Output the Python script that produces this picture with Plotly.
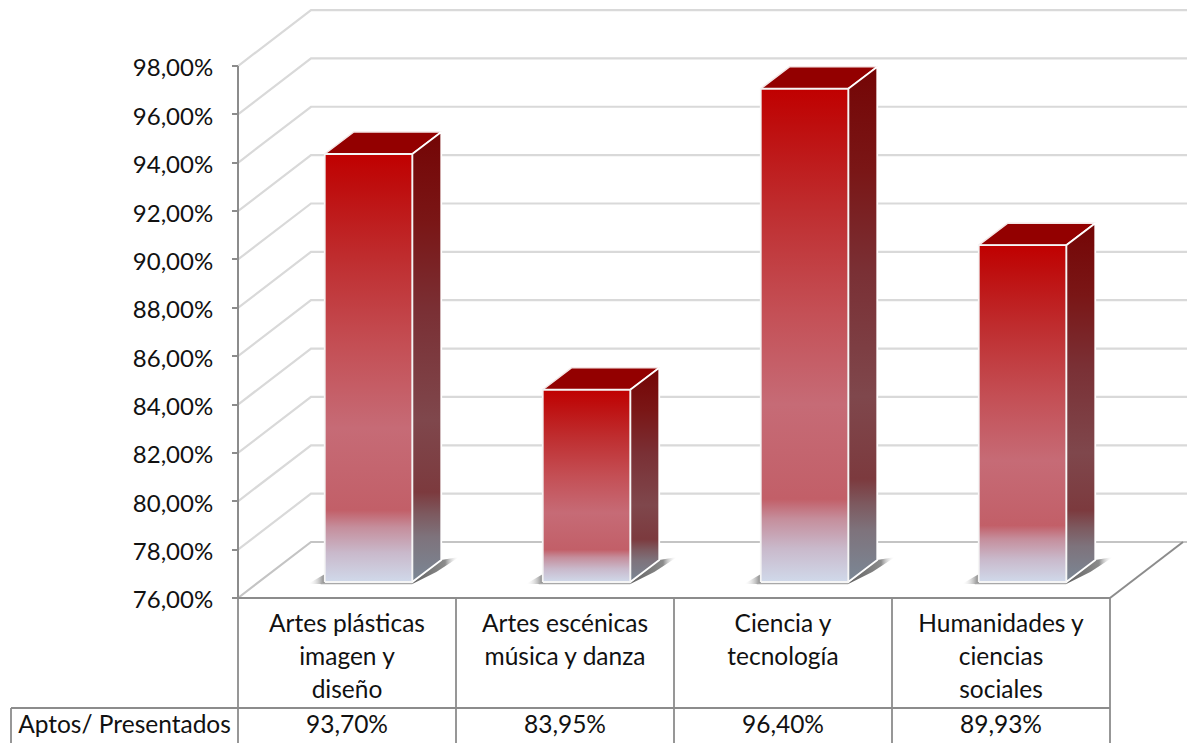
import plotly.graph_objects as go

categories = [
    ["Artes plásticas", "imagen y", "diseño"],
    ["Artes escénicas", "música y danza"],
    ["Ciencia y", "tecnología"],
    ["Humanidades y", "ciencias", "sociales"],
]
values = [93.70, 83.95, 96.40, 89.93]
series_name = "Aptos/ Presentados"
y_ticks = [76, 78, 80, 82, 84, 86, 88, 90, 92, 94, 96, 98]

# layout geometry (pixels)
W, H = 1187, 743
L, B_PX = 238, 598
PX_X = 218.0
PX_Y = 24.18
def xp(px): return (px - L) / PX_X
def yp(py): return 76 + (B_PX - py) / PX_Y
def dx(px): return px / PX_X
def dy(px): return px / PX_Y

WALL_X, WALL_Y = dx(73), dy(56)
BAR_W = dx(87.5)
BAR_DX, BAR_DY = dx(21.5), dy(16)
DEP_X, DEP_Y = dx(29), dy(22)
GRID = "#d9d9d9"
AXIS = "#8c8c8c"
FONT = "Lato"
FS = 24
FS_TABLE = 24.5

fig = go.Figure()

def line(x, y, color, width=2):
    fig.add_trace(go.Scatter(x=x, y=y, mode="lines", line=dict(color=color, width=width),
                             cliponaxis=False, hoverinfo="skip", showlegend=False))

# walls and gridlines
for t in y_ticks:
    c = "#c4c4c4" if t == 76 else GRID
    line([0, WALL_X, 4 + WALL_X + 0.02], [t, t + WALL_Y, t + WALL_Y], c, 2.2)
# floor right edge
line([4, 4 + WALL_X], [76, 76 + WALL_Y], AXIS, 2)

front_scale = [[0, "#D0D9EA"], [0.068, "#C9B9CB"], [0.128, "#C58E9C"], [0.168, "#C25F68"],
               [0.36, "#C66B76"], [0.55, "#C44F55"], [0.75, "#BF2E30"], [0.93, "#BE0D0D"], [1, "#C00000"]]
side_scale = [[0, "#7B8896"], [0.1, "#7E737C"], [0.15, "#7D5A60"], [0.2, "#7C3A3E"], [0.36, "#7F474C"],
              [0.6, "#7A3035"], [0.8, "#7A1616"], [1, "#740505"]]

def poly(x, y, **kw):
    fig.add_trace(go.Scatter(x=x, y=y, mode="lines", fill="toself", cliponaxis=False,
                             hoverinfo="skip", showlegend=False, **kw))

for i, v in enumerate(values):
    x0 = i + 0.5 - BAR_W / 2 + BAR_DX
    x1 = x0 + BAR_W
    y0 = 76 + BAR_DY
    y1 = v + BAR_DY
    # shadow
    shade = dict(type="horizontal",
                 colorscale=[[0, "rgba(80,80,80,0.9)"], [0.7, "rgba(90,90,90,0.7)"], [1, "rgba(255,255,255,0)"]])
    poly([x1, x1 + DEP_X, x1 + dx(47), x1 + dx(24), x1],
         [y0 - dy(1), y0 + DEP_Y, y0 + DEP_Y + dy(3), y0 + dy(10), y0 - dy(2)],
         line=dict(width=0), fillgradient=shade)
    shade_l = dict(type="horizontal",
                   colorscale=[[0, "rgba(255,255,255,0)"], [1, "rgba(80,80,80,0.9)"]])
    poly([x0 - dx(17), x0 + dx(2), x0 + dx(2), x0 - dx(17)],
         [y0 - dy(2), y0 + dy(9), y0 - dy(2), y0 - dy(2)],
         line=dict(width=0), fillgradient=shade_l)
    line([x0 - dx(4), x1], [y0 - dy(1.5), y0 - dy(1.5)], "#a8a8a8", 1.5)
    # top face
    poly([x0, x1, x1 + DEP_X, x0 + DEP_X, x0], [y1, y1, y1 + DEP_Y, y1 + DEP_Y, y1],
         line=dict(color="#f4e6e6", width=1.5), fillcolor="#930000")
    # side face
    poly([x1, x1 + DEP_X, x1 + DEP_X, x1, x1], [y0, y0 + DEP_Y, y1 + DEP_Y, y1, y0],
         line=dict(color="#ffffff", width=1.8),
         fillgradient=dict(type="vertical", colorscale=side_scale))
    # front face
    poly([x0, x1, x1, x0, x0], [y0, y0, y1, y1, y0],
         line=dict(color="#f5f5f5", width=1.8),
         fillgradient=dict(type="vertical", colorscale=front_scale))

# value axis line
line([0, 0], [76, y_ticks[-1]], AXIS, 2)

# data table rules
line([0, 4], [76, 76], AXIS, 2.2)
for k in range(5):
    line([k, k], [76, yp(H + 2)], AXIS, 1.8)
line([xp(11), 4], [yp(708), yp(708)], AXIS, 1.8)
line([xp(11), xp(11)], [yp(708), yp(H + 2)], AXIS, 1.8)

# data table text
LINE_PY = [626, 659, 692]
tx, ty, tt = [], [], []
for i, lines in enumerate(categories):
    for j, s in enumerate(lines):
        tx.append(i + 0.5); ty.append(yp(LINE_PY[j])); tt.append(s)
tx += [xp(124.5)]; ty += [yp(727)]; tt += [series_name]
for i, v in enumerate(values):
    tx.append(i + 0.5); ty.append(yp(727)); tt.append(f"{v:.2f}%".replace(".", ","))
fig.add_trace(go.Scatter(x=tx, y=ty, text=tt, mode="text", textposition="middle center",
                         textfont=dict(family=FONT, size=FS_TABLE, color="#111111"),
                         cliponaxis=False, hoverinfo="skip", showlegend=False))

fig.update_layout(
    width=W, height=H, autosize=False,
    margin=dict(l=0, r=0, t=0, b=0, pad=0),
    plot_bgcolor="white", paper_bgcolor="white", showlegend=False,
    xaxis=dict(range=[xp(0), xp(W)], domain=[0, 1], showgrid=False, zeroline=False,
               showticklabels=False, ticks="", showline=False, fixedrange=True),
    yaxis=dict(range=[yp(H), yp(0)], anchor="free", position=L / W, showgrid=False,
               zeroline=False, showline=False,
               tickmode="array", tickvals=y_ticks,
               ticktext=[f"{t:.2f}%".replace(".", ",") for t in y_ticks],
               ticks="outside", ticklen=6, tickwidth=2, tickcolor=AXIS,
               ticklabelstandoff=14, ticklabelshift=2, fixedrange=True,
               tickfont=dict(family=FONT, size=FS, color="#111111")),
)
fig.write_html("out.html", config=dict(displayModeBar=False),
               post_script="document.body.style.margin='0';")
